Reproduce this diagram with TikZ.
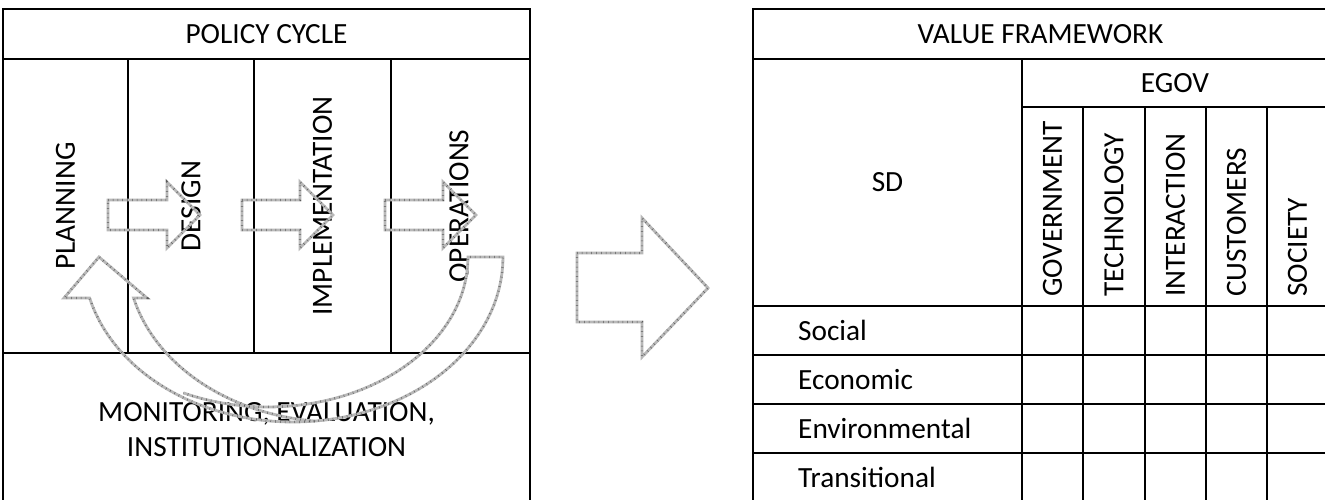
\documentclass[tikz,border=0pt]{standalone}
\usepackage{fontspec}
\setmainfont{Carlito}
\begin{document}
\begin{tikzpicture}[x=1pt,y=-1pt,
  frame/.style={line width=1.6pt, draw=black, line cap=rect},
  lbl/.style={font=\fontsize{29.3}{35}\selectfont, inner sep=0pt, text=black},
  vlbl/.style={lbl, rotate=90},
  blockarrow/.style={draw=black!28, line width=2.8pt, line join=miter,
    postaction={draw=black!65, line width=2.4pt, dash pattern=on 0.5pt off 4.3pt}}
]
\useasboundingbox (0,0) rectangle (1325,500);
\fill[white] (0,0) rectangle (1325,500);

% ---- left box: policy cycle
\draw[frame] (3,9) rectangle (530,506);
\draw[frame] (3,59) -- (530,59);
\draw[frame] (3,353) -- (530,353);
\foreach \x in {128,254,391} \draw[frame] (\x,59) -- (\x,353);

\node[lbl] (pc) at (266.5,34) {POLICY CYCLE};
\node[vlbl] (plan) at (65.5,206) {PLANNING};
\node[vlbl] (des) at (191,206) {DESIGN};
\node[vlbl] (impl) at (322.5,206) {IMPLEMENTATION};
\node[vlbl] (ops) at (459,206) {OPERATIONS};
\node[lbl, align=center] (mon) at (266.5,430) {MONITORING, EVALUATION,\\INSTITUTIONALIZATION};

% ---- right table: value framework
\draw[frame] (753,9) rectangle (1328,506);
\draw[frame] (753,59) -- (1328,59);
\draw[frame] (1022,59) -- (1022,506);
\draw[frame] (1022,107) -- (1328,107);
\foreach \x in {1083,1145,1206,1267} \draw[frame] (\x,107) -- (\x,506);
\foreach \y in {306,355,404,453} \draw[frame] (753,\y) -- (1328,\y);

\node[lbl] (vf) at (1040.5,34) {VALUE FRAMEWORK};
\node[lbl] (egov) at (1175,83) {EGOV};
\node[lbl] (sd) at (887.5,182) {SD};
\node[vlbl, anchor=west] (gov) at (1052.5,297) {GOVERNMENT};
\node[vlbl, anchor=west] (tech) at (1114,297) {TECHNOLOGY};
\node[vlbl, anchor=west] (inter) at (1175.5,297) {INTERACTION};
\node[vlbl, anchor=west] (cust) at (1236.5,297) {CUSTOMERS};
\node[vlbl, anchor=west] (soc) at (1297.5,297) {SOCIETY};
\node[lbl, anchor=west] (social) at (798,330.5) {Social};
\node[lbl, anchor=west] (econ) at (798,379.5) {Economic};
\node[lbl, anchor=west] (env) at (798,428.5) {Environmental};
\node[lbl, anchor=west] (trans) at (798,477.5) {Transitional};

% ---- block arrows
\draw[blockarrow] (108,200) -- (167,200) -- (167,182) -- (200,215) -- (167,248) -- (167,230) -- (108,230) -- cycle;
\draw[blockarrow] (242,200) -- (300,200) -- (300,182) -- (333,215) -- (300,248) -- (300,230) -- (242,230) -- cycle;
\draw[blockarrow] (385,200) -- (443,200) -- (443,182) -- (476,215) -- (443,248) -- (443,230) -- (385,230) -- cycle;
\draw[blockarrow] (577,253) -- (642,253) -- (642,218) -- (708,288) -- (642,357) -- (642,322) -- (577,322) -- cycle;

% ---- curved return arrow
\draw[blockarrow] plot[domain=96:165.6, samples=40] ({337+210*cos(\x)},{257+165*sin(\x)})
  -- (147,298) -- (99,257) -- (64,298) --
  plot[domain=165.6:0, samples=60] ({293+210*cos(\x)},{257+165*sin(\x)})
  -- (468,257) --
  plot[domain=0:115, samples=40] ({268+200*cos(\x)},{257+150*sin(\x)});
\end{tikzpicture}
\end{document}
